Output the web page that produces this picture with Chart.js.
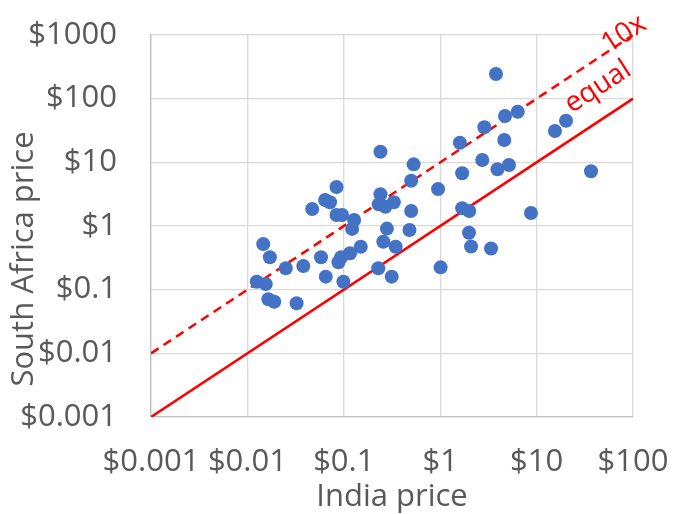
<!DOCTYPE html>
<html lang="en">
<head>
    <meta charset="UTF-8">
    <title>South Africa vs India price</title>
    <style>
        body { margin: 0; background: #fff; }
        .chart-container { position: relative; width: 673px; height: 514px; }
    </style>
</head>
<body>
    <div class="chart-container">
        <canvas id="priceChart"></canvas>
    </div>

    <script src="https://cdn.jsdelivr.net/npm/chart.js@4.4.0/dist/chart.umd.min.js"></script>
    <script>
        // one entry per product
        const indiaPrice = [
            0.24, 0.53, 0.50, 0.95, 0.084, 0.064, 0.072, 0.047, 0.24, 0.23,
            0.27, 0.33, 0.50, 0.084, 0.096, 0.128, 0.122, 0.28, 0.48, 0.257,
            0.345, 0.15, 0.116, 0.094, 0.088, 0.058, 0.0146, 0.0171, 0.025, 0.038,
            0.065, 0.228, 0.314, 1.01, 0.099, 0.0125, 0.0155, 0.0165, 0.019, 0.0324,
            3.79, 6.37, 4.70, 2.87, 1.60, 4.62, 15.5, 20.2, 2.73, 1.69,
            3.93, 5.17, 36.7, 1.69, 2.00, 8.75, 1.99, 2.09, 3.37
        ];
        const southAfricaPrice = [
            14.7, 9.3, 5.15, 3.8, 4.1, 2.56, 2.36, 1.85, 3.15, 2.19,
            2.01, 2.36, 1.72, 1.49, 1.49, 1.24, 0.90, 0.91, 0.865, 0.567,
            0.473, 0.473, 0.373, 0.323, 0.269, 0.323, 0.52, 0.323, 0.217, 0.235,
            0.16, 0.217, 0.16, 0.224, 0.133, 0.133, 0.123, 0.0706, 0.0647, 0.0611,
            244, 62.4, 53.4, 35.5, 20.3, 22.4, 31.0, 45.1, 10.9, 6.73,
            7.78, 9.08, 7.23, 1.90, 1.72, 1.60, 0.785, 0.476, 0.443
        ];

        // reference lines: y = x and y = 10x
        const lineX = [0.001, 100];
        const equalY = [0.001, 100];
        const tenXY = [0.01, 1000];

        const xTicks = [0.001, 0.01, 0.1, 1, 10, 100];
        const yTicks = [0.001, 0.01, 0.1, 1, 10, 100, 1000];

        const textColor = '#595959';
        const gridColor = '#d9d9d9';
        const red = '#ff0000';

        Chart.defaults.font.family = "'Open Sans', sans-serif";

        // labels may overhang the plot, so drop the extra room chart.js reserves for them
        function noLabelPadding(scale) {
            scale.paddingTop = 0;
            scale.paddingBottom = 0;
            scale.paddingLeft = 0;
            scale.paddingRight = 0;
        }

        // axis titles and the two line labels
        const textPlugin = {
            id: 'chartText',
            afterDraw(chart) {
                const { ctx, chartArea } = chart;
                ctx.save();
                ctx.fillStyle = textColor;
                ctx.font = "31px 'Open Sans'";
                ctx.textAlign = 'center';
                ctx.textBaseline = 'alphabetic';
                ctx.fillText('India price', (chartArea.left + chartArea.right) / 2, 506);

                ctx.save();
                ctx.translate(33, 259);
                ctx.rotate(-Math.PI / 2);
                ctx.fillText('South Africa price', 0, 0);
                ctx.restore();

                ctx.fillStyle = red;
                ctx.font = "28px 'Open Sans'";
                ctx.textBaseline = 'middle';
                const angle = -33 * Math.PI / 180;

                ctx.save();
                ctx.translate(chartArea.right - 9, chartArea.top - 1);
                ctx.rotate(angle);
                ctx.fillText('10x', 0, 0);
                ctx.restore();

                ctx.save();
                ctx.translate(chartArea.right - 35, chartArea.top + 52);
                ctx.rotate(angle);
                ctx.fillText('equal', 0, 0);
                ctx.restore();

                ctx.restore();
            }
        };

        const ctx = document.getElementById('priceChart').getContext('2d');
        new Chart(ctx, {
            type: 'scatter',
            data: {
                datasets: [
                    {
                        label: 'Products',
                        data: indiaPrice.map((x, i) => ({ x: x, y: southAfricaPrice[i] })),
                        backgroundColor: '#4472c4',
                        borderWidth: 0,
                        pointRadius: 7,
                        order: 0
                    },
                    {
                        label: 'equal',
                        data: lineX.map((x, i) => ({ x: x, y: equalY[i] })),
                        showLine: true,
                        borderColor: red,
                        borderWidth: 2.5,
                        pointRadius: 0,
                        order: 1
                    },
                    {
                        label: '10x',
                        data: lineX.map((x, i) => ({ x: x, y: tenXY[i] })),
                        showLine: true,
                        borderColor: red,
                        borderWidth: 2.5,
                        borderDash: [9, 6],
                        pointRadius: 0,
                        order: 1
                    }
                ]
            },
            options: {
                responsive: true,
                maintainAspectRatio: false,
                animation: false,
                layout: {
                    padding: { top: 35, right: 40, left: 0, bottom: 0 }
                },
                plugins: {
                    legend: { display: false },
                    tooltip: { enabled: false }
                },
                scales: {
                    x: {
                        type: 'logarithmic',
                        min: 0.001,
                        max: 100,
                        afterBuildTicks: scale => {
                            scale.ticks = xTicks.map(v => ({ value: v }));
                        },
                        afterFit: scale => {
                            scale.height = 97;
                            noLabelPadding(scale);
                        },
                        grid: { color: gridColor, lineWidth: 1.3, drawTicks: false },
                        border: { color: '#bfbfbf', width: 1.3 },
                        ticks: {
                            autoSkip: false,
                            maxRotation: 0,
                            padding: 27,
                            color: textColor,
                            font: { size: 31 },
                            callback: value => '$' + value
                        }
                    },
                    y: {
                        type: 'logarithmic',
                        min: 0.001,
                        max: 1000,
                        afterBuildTicks: scale => {
                            scale.ticks = yTicks.map(v => ({ value: v }));
                        },
                        afterFit: scale => {
                            scale.width = 151;
                            noLabelPadding(scale);
                        },
                        grid: { color: gridColor, lineWidth: 1.3, drawTicks: false },
                        border: { color: '#bfbfbf', width: 1.3 },
                        ticks: {
                            autoSkip: false,
                            padding: 34,
                            color: textColor,
                            font: { size: 31 },
                            callback: value => '$' + value
                        }
                    }
                }
            },
            plugins: [textPlugin]
        });
    </script>
</body>
</html>
